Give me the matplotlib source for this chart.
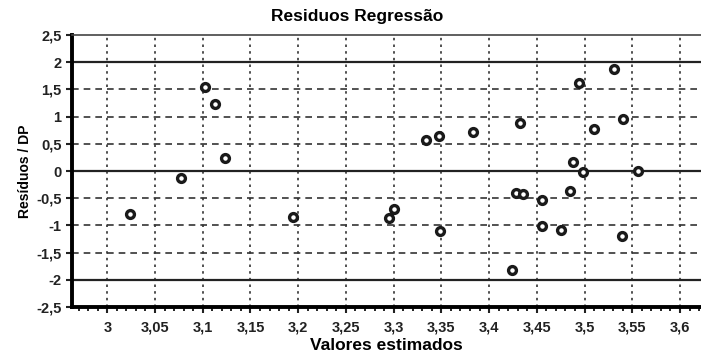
import matplotlib
matplotlib.use("Agg")
import matplotlib.pyplot as plt
import numpy as np
from matplotlib.ticker import FuncFormatter, MultipleLocator

valores = [3.024, 3.077, 3.102, 3.113, 3.123, 3.195, 3.295, 3.300, 3.334,
           3.348, 3.349, 3.383, 3.424, 3.428, 3.432, 3.435, 3.455, 3.455,
           3.475, 3.485, 3.488, 3.494, 3.498, 3.510, 3.531, 3.539, 3.540,
           3.556]
residuos = [-0.79, -0.13, 1.54, 1.23, 0.24, -0.85, -0.86, -0.70, 0.57,
            0.64, -1.10, 0.72, -1.82, -0.40, 0.88, -0.42, -0.53, -1.01,
            -1.08, -0.37, 0.17, 1.62, -0.02, 0.77, 1.88, -1.19, 0.96,
            0.00]
xticks = [3, 3.05, 3.1, 3.15, 3.2, 3.25, 3.3, 3.35, 3.4, 3.45, 3.5, 3.55, 3.6]
yticks = [-2.5, -2, -1.5, -1, -0.5, 0, 0.5, 1, 1.5, 2, 2.5]

plt.rcParams['font.family'] = ['Liberation Sans', 'DejaVu Sans']
plt.rcParams['font.weight'] = 'bold'

fig = plt.figure(figsize=(7.01, 3.56), dpi=100)
ax = fig.add_axes([72 / 701, 1 - 307 / 356, 1 - 72 / 701, (307 - 35) / 356])

x = np.array(valores)
y = np.array(residuos)
ax.scatter(x, y, s=32, facecolors='white', edgecolors='#1a1a1a', linewidths=2.4, zorder=5)

ax.set_xlim(2.963, 3.622)
ax.set_ylim(-2.5, 2.5)
ax.set_xticks(xticks)
ax.set_yticks(yticks)
ax.xaxis.set_minor_locator(MultipleLocator(0.01))
fmt = FuncFormatter(lambda v, p: ('%g' % round(v, 2)).replace('.', ','))
ax.xaxis.set_major_formatter(fmt)
ax.yaxis.set_major_formatter(fmt)

# grade: verticais pontilhadas, horizontais tracejadas
for t in xticks:
    ax.axvline(t, color='#333333', lw=1.2, ls=(0, (1.5, 2.5)), zorder=1)
for t in [-1.5, -1, -0.5, 0.5, 1, 1.5]:
    ax.axhline(t, color='#333333', lw=1.2, ls=(0, (4, 3)), zorder=1)
for t in [-2, 0, 2]:
    ax.axhline(t, color='#222222', lw=1.6, zorder=2)

ax.spines['right'].set_visible(False)
ax.spines['top'].set_linewidth(1.2)
ax.spines['top'].set_color('#444444')
ax.spines['left'].set_linewidth(2.8)
ax.spines['bottom'].set_linewidth(2.8)
ax.tick_params(axis='both', which='major', labelsize=10.5, length=4, width=1.5,
               colors='#222222')
ax.tick_params(axis='x', which='major', pad=6)
ax.tick_params(axis='x', which='minor', length=3, width=1.2)
ax.tick_params(axis='y', which='minor', left=False)

fig.text(357 / 701, 1 - 17 / 356, 'Residuos Regressão', fontsize=12.5,
         fontweight='bold', ha='center', va='center')
ax.set_xlabel('Valores estimados', fontsize=12.5, fontweight='bold', labelpad=2)
ax.set_ylabel('Resíduos / DP', fontsize=10, fontweight='bold', labelpad=3)

fig.savefig('out.png', dpi=100)
